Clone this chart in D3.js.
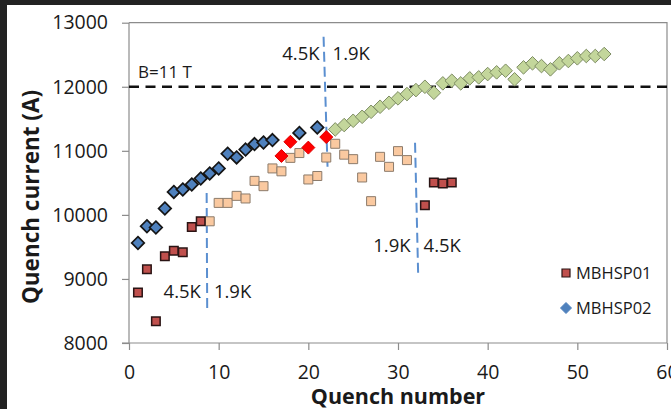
<!DOCTYPE html>
<html><head><meta charset="utf-8">
<script src="https://cdn.jsdelivr.net/npm/d3@7"></script>
<style>
html,body{margin:0;padding:0;background:#fff;}
svg{display:block;}
text{font-family:"Open Sans",sans-serif;fill:#1a1a1a;}
</style></head>
<body>
<svg id="c" width="671" height="409"></svg>
<script>
// ---- data ----
const xTicks = [0,10,20,30,40,50,60];
const yTicks = [8000,9000,10000,11000,12000,13000];

// MBHSP01 at 4.5 K (dark red squares)
const p01HotX = [1,2,3,4,5,6,7,8,33,34,35,36];
const p01HotY = [8790,9150,8340,9355,9440,9415,9810,9900,10150,10505,10490,10505];

// MBHSP01 at 1.9 K (peach squares)
const p01ColdX = [9,10,11,12,13,14,15,16,17,18,19,20,21,22,23,24,25,26,27,28,29,30,31];
const p01ColdY = [9900,10187,10187,10297,10256,10531,10448,10725,10680,10890,10965,10553,10607,10895,11110,10940,10870,10584,10214,10906,10750,10995,10855];

// MBHSP02 at 4.5 K (blue diamonds)
const p02HotX = [1,2,3,4,5,6,7,8,9,10,11,12,13,14,15,16,19,21];
const p02HotY = [9562,9823,9803,10100,10359,10397,10475,10569,10647,10725,10955,10897,11020,11105,11131,11167,11280,11365];

// MBHSP02 at 4.5 K, other quenches (red diamonds)
const p02RedX = [17,18,20,22];
const p02RedY = [10920,11141,11050,11215];

// MBHSP02 at 1.9 K (green diamonds)
const p02ColdX = [23,24,25,26,27,28,29,30,31,32,33,34,35,36,37,38,39,40,41,42,43,44,45,46,47,48,49,50,51,52,53];
const p02ColdY = [11334,11402,11469,11531,11609,11688,11750,11819,11886,11948,12000,11906,12053,12094,12053,12131,12147,12198,12225,12250,12116,12303,12366,12323,12272,12366,12402,12444,12480,12480,12511];

const fieldLevel = 12000;
const fieldLabel = "B=11 T";
// temperature change markers
const tempLinesX1 = [8.66, 21.7, 31.9];
const tempLinesY1 = [10340, 12780, 11125];
const tempLinesX2 = [8.72, 22.15, 32.25];
const tempLinesY2 = [8540, 10714, 9058];
const tempLeft = ["4.5K","4.5K","1.9K"];
const tempRight = ["1.9K","1.9K","4.5K"];
const tempLabelY = [8700, 12410, 9420];

const legendNames = ["MBHSP01","MBHSP02"];

// ---- drawing ----
const svg = d3.select("#c");
const x = d3.scaleLinear().domain([0,60]).range([129,667]);
const y = d3.scaleLinear().domain([8000,13000]).range([343,22.7]);

svg.append("rect").attr("width",671).attr("height",409).attr("fill","#fff");

// plot border top/right
svg.append("path").attr("d",`M${x(0)},${y(13000)}H${x(60)}V${y(8000)}`)
  .attr("fill","none").attr("stroke","#8c8c8c").attr("stroke-width",1.2);

const gx = svg.append("g").attr("transform",`translate(0,${y(8000)})`)
  .call(d3.axisBottom(x).tickValues(xTicks).tickSize(7).tickPadding(15).tickFormat(d3.format("d")));
const gy = svg.append("g").attr("transform",`translate(${x(0)},0)`)
  .call(d3.axisLeft(y).tickValues(yTicks).tickSize(7).tickPadding(14).tickFormat(d3.format("d")));
[gx,gy].forEach(g=>{
  g.select(".domain").attr("stroke","#8c8c8c").attr("stroke-width",1.2);
  g.selectAll(".tick line").attr("stroke","#8c8c8c").attr("stroke-width",1.2);
  g.selectAll("text").style("font-family","'Open Sans',sans-serif").style("font-size","19.5px").attr("fill","#1a1a1a");
});
gy.select(".domain").attr("d",`M0,${y(13000)}V${y(8000)}`);
gx.select(".domain").attr("d",`M${x(0)-7},0H${x(60)}`);

// axis titles
svg.append("text").attr("x",(x(0)+x(60))/2).attr("y",404).attr("text-anchor","middle")
  .style("font-size","21.5px").style("font-weight","bold").text("Quench number");
svg.append("text").attr("transform",`translate(39,197) rotate(-90)`).attr("text-anchor","middle")
  .style("font-size","22.5px").style("font-weight","bold").text("Quench current (A)");

// field line
svg.append("line").attr("x1",x(0)).attr("x2",x(60)).attr("y1",y(fieldLevel)).attr("y2",y(fieldLevel))
  .attr("stroke","#111").attr("stroke-width",2.5).attr("stroke-dasharray","10,6.5");
svg.append("text").attr("x",138).attr("y",y(fieldLevel)-9).style("font-size","17px").text(fieldLabel);

// temperature lines
tempLinesX1.forEach((d,i)=>{
  svg.append("line").attr("x1",x(d)).attr("y1",y(tempLinesY1[i])).attr("x2",x(tempLinesX2[i])).attr("y2",y(tempLinesY2[i]))
    .attr("stroke","#5b8fd0").attr("stroke-width",2).attr("stroke-dasharray","10,5");
  const xm = (x(d)+x(tempLinesX2[i]))/2;
  svg.append("text").attr("x",xm-6).attr("y",y(tempLabelY[i])).attr("text-anchor","end").style("font-size","18.5px").text(tempLeft[i]);
  svg.append("text").attr("x",xm+7).attr("y",y(tempLabelY[i])).attr("text-anchor","start").style("font-size","18.5px").text(tempRight[i]);
});

const diamond = r => `M0,${-r}L${r},0L0,${r}L${-r},0Z`;
const square = s => `M${-s/2},${-s/2}h${s}v${s}h${-s}Z`;

function series(xs, ys, shape, fill, stroke, sw){
  svg.append("g").selectAll("path").data(xs.map((d,i)=>[d,ys[i]])).join("path")
    .attr("transform",d=>`translate(${x(d[0])},${y(d[1])})`)
    .attr("d",shape).attr("fill",fill).attr("stroke",stroke).attr("stroke-width",sw);
}
series(p01ColdX,p01ColdY,square(9),"#fac9a0","#8c7b6b",1);
series(p01HotX,p01HotY,square(8.5),"#c0504d","#2a1414",1.5);
series(p02HotX,p02HotY,diamond(6.3),"#4f81bd","#151515",1.7);
series(p02RedX,p02RedY,diamond(6.5),"#ff0000","#e00000",1);
series(p02ColdX,p02ColdY,diamond(6.8),"#c3d69b","#7d8c62",1);

// legend
svg.append("path").attr("transform","translate(566,273)").attr("d",square(8)).attr("fill","#c0504d").attr("stroke","#2a1414").attr("stroke-width",1.2);
svg.append("path").attr("transform","translate(566,308)").attr("d",diamond(5.5)).attr("fill","#4f81bd").attr("stroke","#4f81bd").attr("stroke-width",1);
legendNames.forEach((n,i)=>{
  svg.append("text").attr("x",576).attr("y",[273,308][i]).attr("dy","0.35em").style("font-size","16.5px").text(n);
});

// dark frame (top and left)
svg.append("rect").attr("x",0).attr("y",0).attr("width",671).attr("height",5).attr("fill","#222");
svg.append("rect").attr("x",0).attr("y",0).attr("width",7).attr("height",409).attr("fill","#222");
</script>
</body></html>
